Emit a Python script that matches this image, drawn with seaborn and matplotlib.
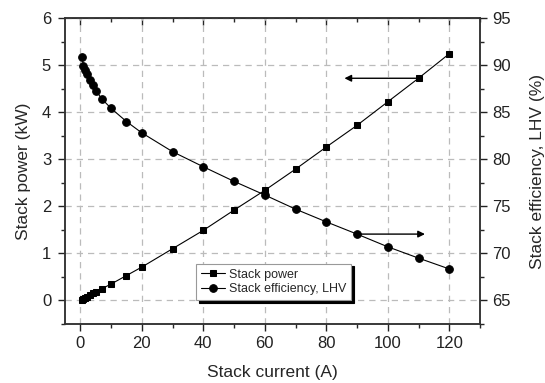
import pandas as pd
import matplotlib
matplotlib.use('Agg')
import matplotlib.pyplot as plt
import seaborn as sns
from matplotlib.ticker import MultipleLocator

# Datos
current = [0.5, 1, 1.5, 2, 3, 4, 5, 7, 10, 15, 20, 30, 40, 50, 60, 70, 80, 90, 100, 110, 120]
power_kw = [0.02, 0.04, 0.06, 0.08, 0.11, 0.15, 0.18, 0.25, 0.35, 0.53, 0.71, 1.10, 1.49, 1.92,
            2.34, 2.79, 3.26, 3.72, 4.22, 4.72, 5.24]
efficiency = [90.9, 89.9, 89.5, 89.1, 88.4, 87.9, 87.3, 86.4, 85.4, 84.0, 82.8, 80.8, 79.2, 77.65,
              76.2, 74.7, 73.35, 72.05, 70.7, 69.5, 68.35]

df = pd.DataFrame({'current': current, 'power': power_kw, 'eff': efficiency})

sns.set_style('ticks')
plt.rcParams['font.family'] = ['Liberation Sans', 'DejaVu Sans']
plt.rcParams['font.size'] = 11

fig = plt.figure(figsize=(5.45, 3.83), dpi=100)
ax = fig.add_axes([0.1193, 0.154, 0.7614, 0.799])
ax2 = ax.twinx()

sns.lineplot(x='current', y='power', data=df, ax=ax, color='black', lw=0.8,
             marker='s', markersize=5, markeredgecolor='black', label='Stack power', legend=False)
sns.lineplot(x='current', y='eff', data=df, ax=ax2, color='black', lw=0.8,
             marker='o', markersize=5.5, markeredgecolor='black', label='Stack efficiency, LHV', legend=False)

ax.set_xlim(-5, 130)
ax.set_ylim(-0.5, 6)
ax2.set_ylim(62.5, 95)

ax.xaxis.set_major_locator(MultipleLocator(20))
ax.xaxis.set_minor_locator(MultipleLocator(10))
ax.yaxis.set_major_locator(MultipleLocator(1))
ax.yaxis.set_minor_locator(MultipleLocator(0.5))
ax2.yaxis.set_major_locator(MultipleLocator(5))
ax2.yaxis.set_minor_locator(MultipleLocator(2.5))

ax.grid(True, which='major', color='#bbbbbb', linestyle=(0, (5, 4)), lw=0.9)
ax.set_axisbelow(True)

ax.tick_params(which='major', direction='out', length=5, width=1, labelsize=12, colors='#222222')
ax.tick_params(axis='y', which='major', pad=5)
ax.tick_params(which='minor', direction='out', length=3, width=1)
ax2.tick_params(which='major', direction='out', length=5, width=1, labelsize=12, colors='#222222')
ax2.tick_params(which='minor', direction='out', length=3, width=1)

top = ax.secondary_xaxis('top')
top.xaxis.set_major_locator(MultipleLocator(20))
top.xaxis.set_minor_locator(MultipleLocator(10))
top.tick_params(which='major', direction='in', length=5, width=1, labeltop=False)
top.tick_params(which='minor', direction='in', length=3, width=1)

for a in (ax, ax2):
    for s in a.spines.values():
        s.set_linewidth(1.1)
        s.set_color('#333333')
    a.spines['top'].set_visible(True)
    a.spines['right'].set_visible(True)

ax.set_xlabel('Stack current (A)', fontsize=12.5, labelpad=10)
ax.set_ylabel('Stack power (kW)', fontsize=12.5, labelpad=8)
ax2.set_ylabel('Stack efficiency, LHV (%)', fontsize=12.5, labelpad=14)

# Flechas que indican a qué eje corresponde cada curva
power_arrow = (110, 85, 4.72)
eff_arrow = (90, 113, 72.05)
ax.annotate('', xy=(power_arrow[1], power_arrow[2]), xytext=(power_arrow[0], power_arrow[2]),
            arrowprops=dict(arrowstyle='-|>', color='black', lw=1, mutation_scale=10))
ax2.annotate('', xy=(eff_arrow[1], eff_arrow[2]), xytext=(eff_arrow[0], eff_arrow[2]),
             arrowprops=dict(arrowstyle='-|>', color='black', lw=1, mutation_scale=10))

h1, l1 = ax.get_legend_handles_labels()
h2, l2 = ax2.get_legend_handles_labels()
leg = ax2.legend(h1 + h2, l1 + l2, loc='lower left', bbox_to_anchor=(0.316, 0.078),
                 borderaxespad=0, fontsize=9, frameon=True, fancybox=False,
                 shadow={'color': 'black', 'alpha': 1}, handlelength=1.9,
                 handletextpad=0.3, labelspacing=0.2, borderpad=0.4)
leg.get_frame().set_edgecolor('#999999')
leg.get_frame().set_linewidth(0.8)

fig.savefig('out.png', dpi=100)
